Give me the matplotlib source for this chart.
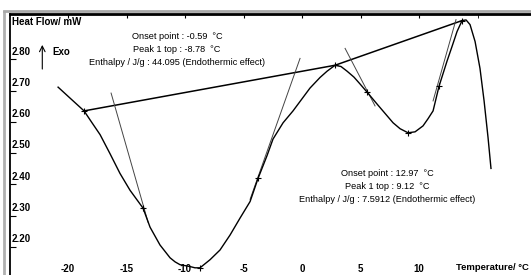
import matplotlib
matplotlib.use("Agg")
import matplotlib.pyplot as plt
from matplotlib.lines import Line2D
from matplotlib.transforms import ScaledTranslation

plt.rcParams["font.family"] = ["Liberation Sans", "DejaVu Sans"]

# DSC curve (temperature in degC, heat flow in mW)
temp = [-20.85, -19.83, -18.63, -17.95, -17.26, -16.41, -15.56, -14.70, -13.59,
        -12.99, -12.14, -11.28, -10.85, -10.43, -9.57, -9.15, -8.72, -7.86, -7.01,
        -6.15, -5.30, -4.44, -3.76, -2.99, -2.48, -1.62, -0.77, 0.68, 1.54, 2.14, 2.82,
        3.33, 3.85, 4.44, 4.96, 5.56, 6.41, 7.78, 8.38, 9.06, 9.66, 10.34, 10.77,
        11.20, 11.71, 12.39, 12.82, 13.25, 13.68, 14.02, 14.36, 14.79, 15.21,
        15.56, 15.90, 16.15]
heat_flow = [2.711, 2.676, 2.635, 2.597, 2.559, 2.498, 2.435, 2.381, 2.324,
             2.263, 2.206, 2.165, 2.152, 2.143, 2.137, 2.133, 2.133, 2.159, 2.190,
             2.238, 2.292, 2.345, 2.419, 2.492, 2.545, 2.597, 2.635, 2.708, 2.742, 2.762, 2.781,
             2.777, 2.762, 2.743, 2.721, 2.695, 2.657, 2.597, 2.578, 2.565, 2.568, 2.587, 2.610,
             2.635, 2.714, 2.794, 2.841, 2.889, 2.924, 2.926, 2.911, 2.857, 2.771,
             2.667, 2.549, 2.451]

# analysis marks (+)
mark_temp = [-18.63, -13.59, -8.72, -3.76, 2.82, 5.56, 9.06, 11.71, 13.68]
mark_hf = [2.635, 2.324, 2.133, 2.419, 2.781, 2.695, 2.565, 2.714, 2.924]

# integration baseline
base_temp = [-18.63, 2.82, 13.68]
base_hf = [2.635, 2.781, 2.924]

# tangent lines (start, end)
tangents = [
    ((-16.32, 2.692), (-13.16, 2.279)),
    ((-0.17, 2.803), (-4.44, 2.352)),
    ((3.68, 2.835), (6.24, 2.651)),
    ((13.16, 2.927), (11.20, 2.667)),
]

x_ticks = [-20, -15, -10, -5, 0, 5, 10]
x_top_ticks = [-20, -15, -10, -5, 0, 5, 10, 15]
y_ticks = [2.20, 2.30, 2.40, 2.50, 2.60, 2.70, 2.80]
y_labels = ["2.20", "2.30", "2.40", "2.50", "2.60", "2.70", "2.80"]

note1 = "Onset point : -0.59  °C\nPeak 1 top : -8.78  °C\nEnthalpy / J/g : 44.095 (Endothermic effect)"
note2 = "Onset point : 12.97  °C\nPeak 1 top : 9.12  °C\nEnthalpy / J/g : 7.5912 (Endothermic effect)"

W, H = 531, 275
fig = plt.figure(figsize=(W / 100, H / 100), dpi=100)
ax = fig.add_axes([10 / W, 0, (W - 10) / W, (H - 14) / H])
ax.set_xlim(-24.96, 19.57)
ax.set_ylim(2.11, 2.945)

# window-ish frame
fig.add_artist(Line2D([4 / W, 4 / W], [0, (H - 12) / H], color="#b0b0b0", lw=2))
fig.add_artist(Line2D([4 / W, 1], [(H - 11) / H, (H - 11) / H], color="#a8a8a8", lw=2))

for s in ["right", "bottom"]:
    ax.spines[s].set_visible(False)
ax.spines["left"].set_linewidth(1.3)
ax.spines["top"].set_linewidth(2)

ax.plot(base_temp, base_hf, color="black", lw=1.1)
for (x0, y0), (x1, y1) in tangents:
    ax.plot([x0, x1], [y0, y1], color="#444444", lw=0.7)
ax.plot(temp, heat_flow, color="black", lw=1.0)
ax.plot(mark_temp, mark_hf, "k+", ms=5, mew=0.8)

# ticks
ax.set_xticks(x_top_ticks, minor=True)
ax.set_xticks(x_ticks, [str(v) for v in x_ticks])
ax.tick_params(axis="x", which="both", bottom=False, top=True, labelbottom=True,
               direction="in", length=3, pad=-8, labelsize=7)
ax.set_yticks(y_ticks, y_labels)
ax.tick_params(axis="y", direction="in", length=4, pad=-1, labelsize=7)
for lab in ax.get_xticklabels() + ax.get_yticklabels():
    lab.set_fontweight("bold")
off = ScaledTranslation(0, 2 / 72, fig.dpi_scale_trans)
for lab in ax.get_yticklabels():
    lab.set_ha("left")
    lab.set_va("bottom")
    lab.set_transform(lab.get_transform() + off)

ax.text(0.004, 0.969, "Heat Flow/ mW", transform=ax.transAxes, fontsize=7,
        fontweight="bold", ha="left", va="center")
ax.text(0.856, 0.027, "Temperature/ °C", transform=ax.transAxes, fontsize=6.8,
        fontweight="bold", ha="left", va="center")
ax.annotate("", xy=(-22.2, 2.855), xytext=(-22.2, 2.76),
            arrowprops=dict(arrowstyle="->", lw=0.8, color="black"))
ax.text(-21.3, 2.825, "Exo", fontsize=7, fontweight="bold", ha="left", va="center")

ax.text(-10.68, 2.832, note1, fontsize=6.6, ha="center", va="center", linespacing=1.6)
ax.text(7.26, 2.394, note2, fontsize=6.6, ha="center", va="center", linespacing=1.6)

fig.savefig("out.png", dpi=100)
